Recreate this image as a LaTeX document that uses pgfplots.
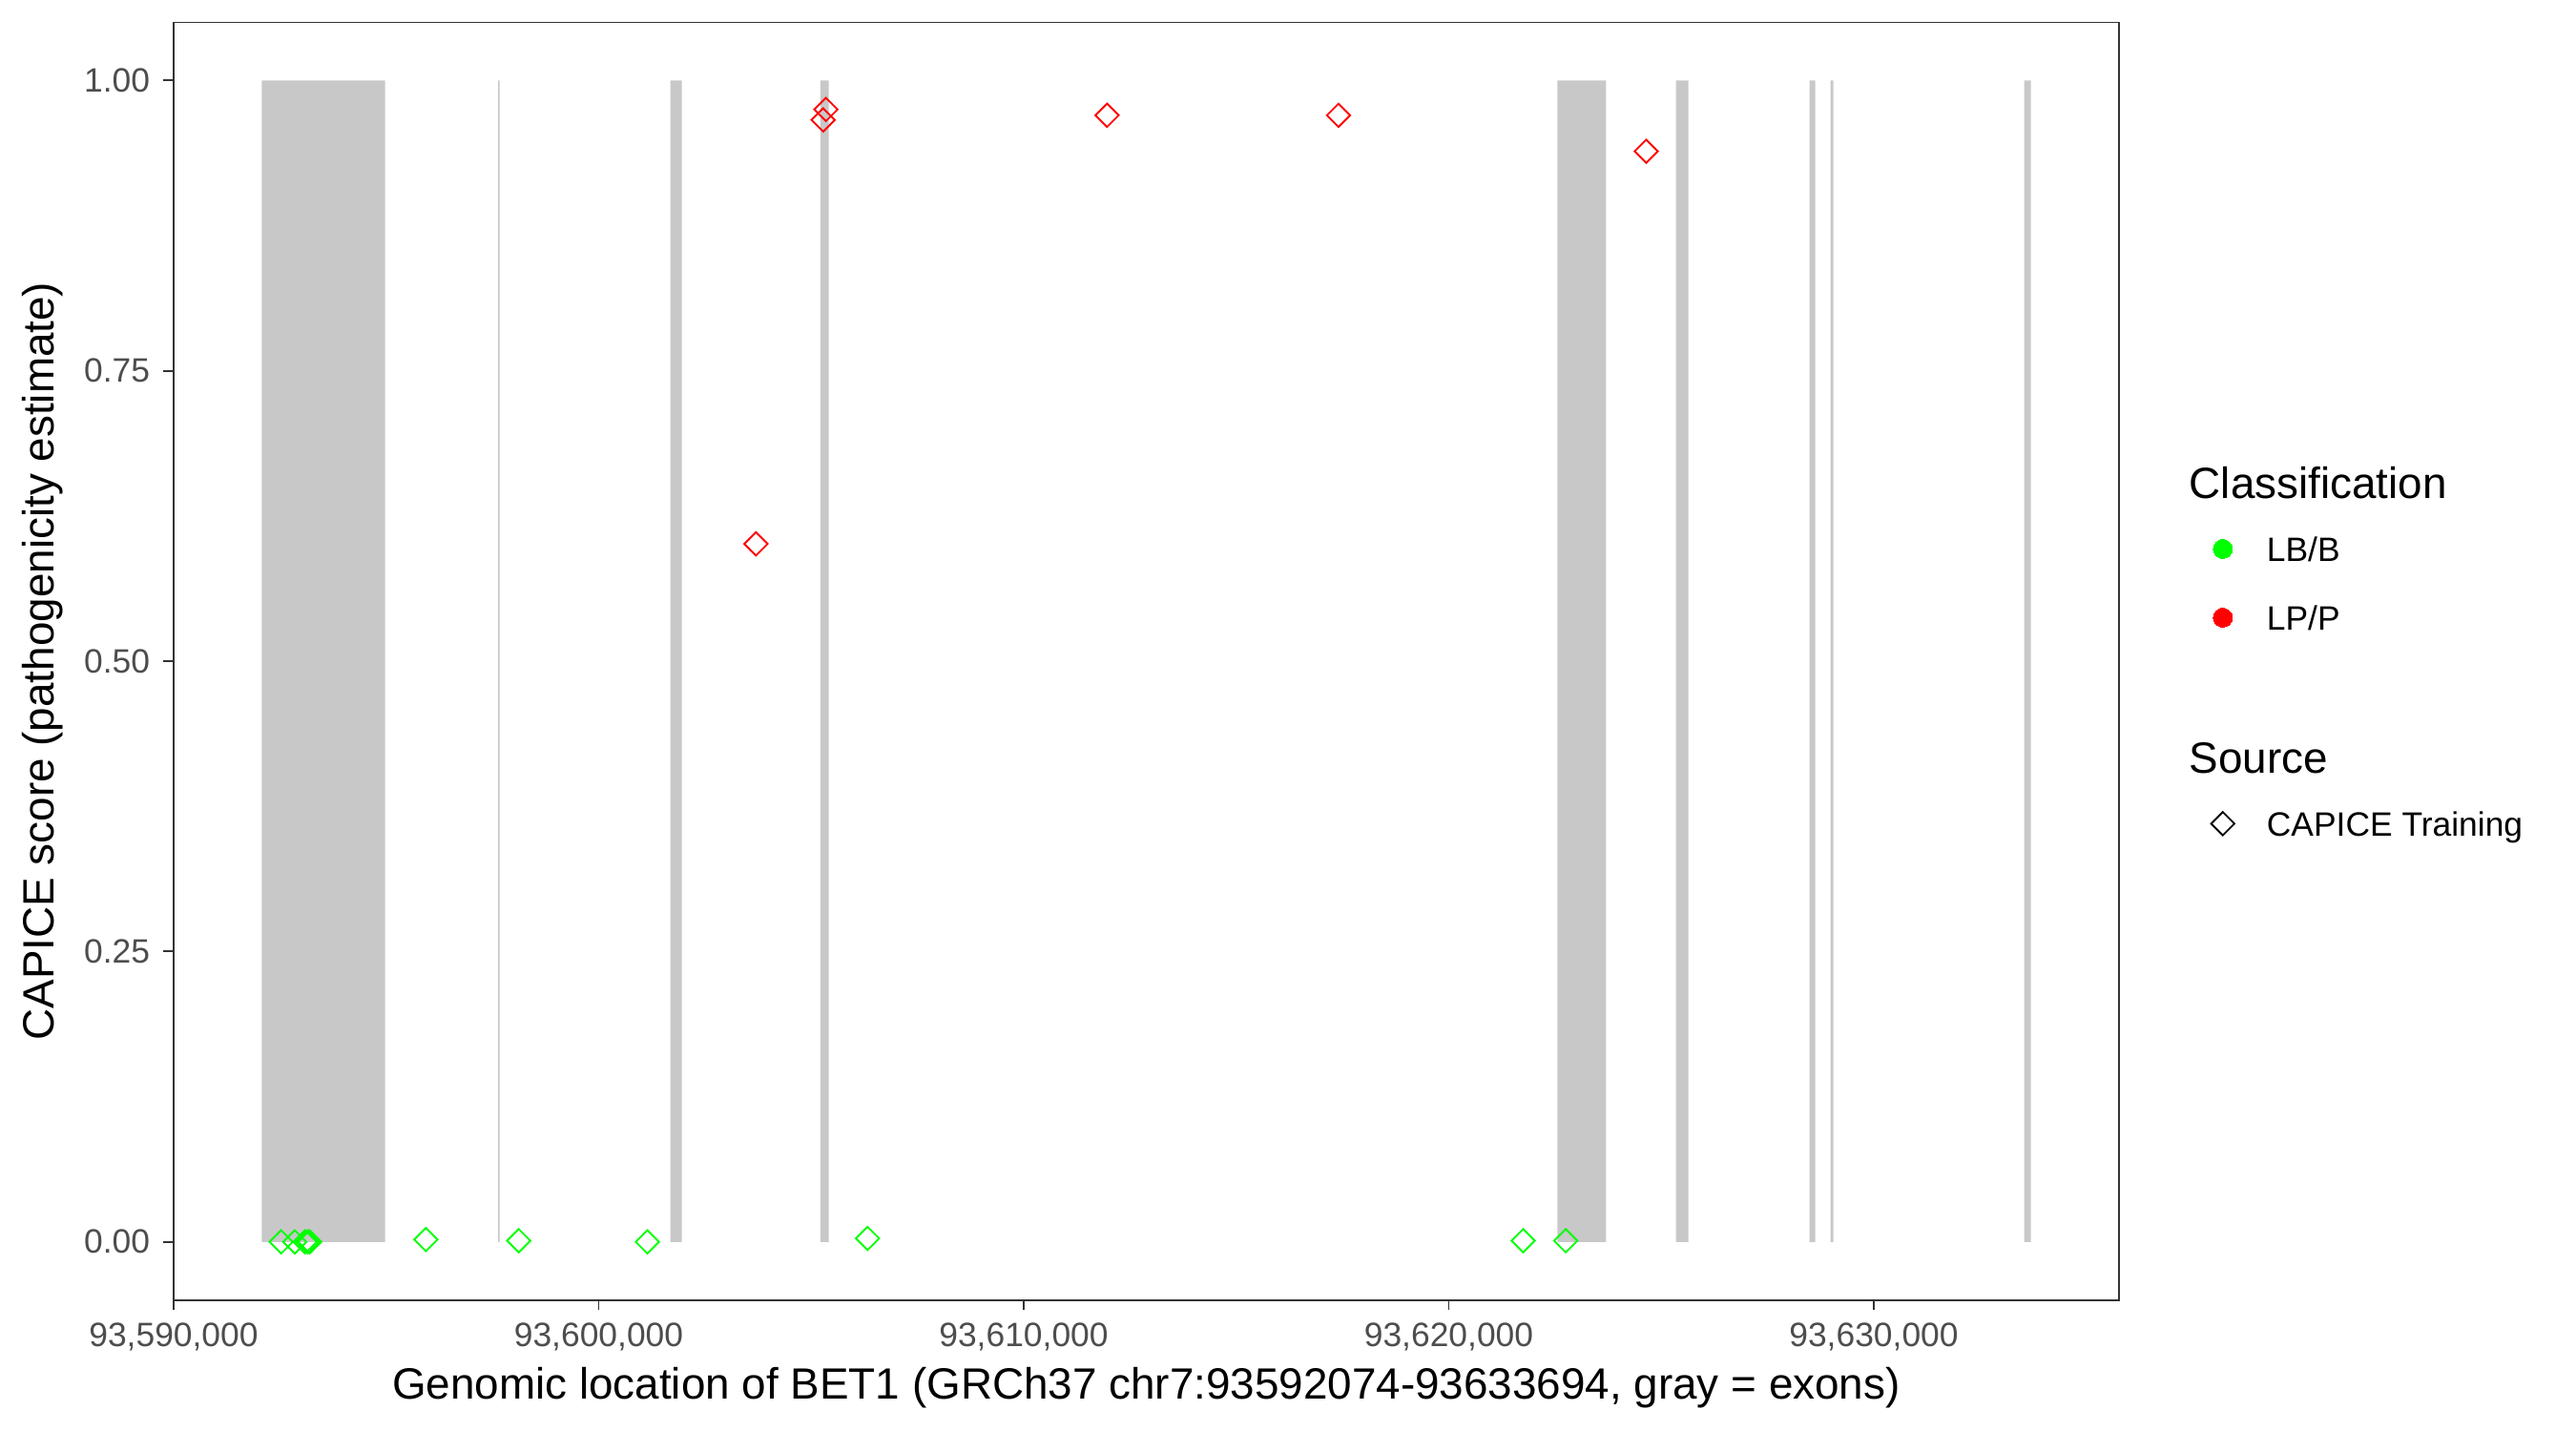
\documentclass[border=0pt]{standalone}
\usepackage{fontspec}
\setmainfont{Liberation Sans}
\usepackage{pgfplots}
\pgfplotsset{compat=1.18}
\definecolor{exongray}{RGB}{200,200,200}
\definecolor{lbgreen}{RGB}{0,255,0}
\definecolor{lpred}{RGB}{255,0,0}
\definecolor{gray20}{RGB}{51,51,51}
\definecolor{gray30}{RGB}{77,77,77}
% x positions are given in bp relative to 93,590,000 (chr7)
\pgfplotstableread{
x y
2530 0.000
2851 0.000
3091 0.000
3151 0.000
3203 0.000
5935 0.002
8119 0.001
11147 0.000
16325 0.003
31752 0.001
32753 0.001
}\lbdata
\pgfplotstableread{
x y
13701 0.601
15281 0.966
15346 0.975
21961 0.970
27407 0.970
34646 0.939
}\lpdata
\begin{document}
\begin{tikzpicture}
\begin{axis}[
  name=ax,
  scale only axis,
  width=489.5pt, height=321.4pt,
  xmin=-7, xmax=45775,
  ymin=-0.05, ymax=1.05,
  axis line style={draw=gray20, line width=0.45pt},
  tick align=outside,
  major tick length=2.6pt,
  tick style={draw=gray20, line width=0.45pt},
  xtick pos=bottom, ytick pos=left,
  scaled x ticks=false, scaled y ticks=false,
  xtick={0,10000,20000,30000,40000},
  xticklabels={{93,590,000},{93,600,000},{93,610,000},{93,620,000},{93,630,000}},
  ytick={0,0.25,0.5,0.75,1},
  yticklabels={0.00,0.25,0.50,0.75,1.00},
  ticklabel style={font=\fontsize{8.5}{10}\selectfont, text=gray30, inner sep=0pt},
  xticklabel style={anchor=base, yshift=-9.17pt},
  yticklabel style={anchor=east, xshift=-3.1pt},
  xlabel={Genomic location of BET1 (GRCh37 chr7:93592074-93633694, gray = exons)},
  ylabel={CAPICE score (pathogenicity estimate)},
  every axis x label/.style={at={(axis description cs:0.5,0)}, anchor=base, yshift=-24.96pt, inner sep=0pt, font=\fontsize{11}{13}\selectfont},
  every axis y label/.style={at={(axis description cs:-0.0613,0.5)}, rotate=90, anchor=base, inner sep=0pt, font=\fontsize{11}{13}\selectfont},
  legend style={draw=none, fill=none, inner sep=0pt,
    at={(axis description cs:1,1)}, anchor=north west,
    xshift=17.85pt, yshift=-111.03pt,
    row sep=9.38pt, column sep=3.05pt,
    nodes={inner sep=0pt, text height=7pt, text depth=0.9pt},
    cells={anchor=west},
    font=\fontsize{8.5}{10}\selectfont},
  legend image code/.code={\path[draw=none, fill=none] (0pt,-3pt) rectangle (16pt,3pt);
    \draw[mark repeat=2,mark phase=2,#1] plot coordinates {(0pt,0pt) (8pt,0pt) (16pt,0pt)};},
]
% exons
\addplot[fill=exongray, draw=none, forget plot] coordinates {(2074,0) (2074,1) (4974,1) (4974,0)} \closedcycle;
\addplot[fill=exongray, draw=none, forget plot] coordinates {(7635,0) (7635,1) (7670,1) (7670,0)} \closedcycle;
\addplot[fill=exongray, draw=none, forget plot] coordinates {(11688,0) (11688,1) (11957,1) (11957,0)} \closedcycle;
\addplot[fill=exongray, draw=none, forget plot] coordinates {(15218,0) (15218,1) (15411,1) (15411,0)} \closedcycle;
\addplot[fill=exongray, draw=none, forget plot] coordinates {(32556,0) (32556,1) (33703,1) (33703,0)} \closedcycle;
\addplot[fill=exongray, draw=none, forget plot] coordinates {(35348,0) (35348,1) (35635,1) (35635,0)} \closedcycle;
\addplot[fill=exongray, draw=none, forget plot] coordinates {(38488,0) (38488,1) (38623,1) (38623,0)} \closedcycle;
\addplot[fill=exongray, draw=none, forget plot] coordinates {(38982,0) (38982,1) (39050,1) (39050,0)} \closedcycle;
\addplot[fill=exongray, draw=none, forget plot] coordinates {(43539,0) (43539,1) (43694,1) (43694,0)} \closedcycle;
% variants
\addplot[only marks, mark=square, mark size=2.07pt, mark options={rotate=45, draw=lbgreen, fill=none, line width=0.45pt}, forget plot] table[x=x,y=y] {\lbdata};
\addplot[only marks, mark=square, mark size=2.07pt, mark options={rotate=45, draw=lpred, fill=none, line width=0.45pt}, forget plot] table[x=x,y=y] {\lpdata};
% legend
\addlegendimage{empty legend}
\addlegendentry{\hspace*{-19.45pt}\raisebox{-1.54pt}{\fontsize{11}{13}\selectfont Classification}}
\addlegendimage{only marks, mark=*, mark size=2.4pt, color=lbgreen, mark options={draw=lbgreen, fill=lbgreen, line width=0pt}}
\addlegendentry{LB/B}
\addlegendimage{only marks, mark=*, mark size=2.4pt, color=lpred, mark options={draw=lpred, fill=lpred, line width=0pt}}
\addlegendentry{LP/P}
\addlegendimage{empty legend}
\addlegendentry{}
\addlegendimage{empty legend}
\addlegendentry{\hspace*{-19.45pt}\raisebox{-1.6pt}{\fontsize{11}{13}\selectfont Source}}
\addlegendimage{only marks, mark=square, mark size=2.07pt, mark options={rotate=45, draw=black, fill=none, line width=0.45pt}}
\addlegendentry{CAPICE Training}
\end{axis}
\path[use as bounding box] ([xshift=-43.6pt,yshift=-32.95pt]ax.south west) rectangle ([xshift=114.9pt,yshift=5.64pt]ax.north east);
\end{tikzpicture}
\end{document}
